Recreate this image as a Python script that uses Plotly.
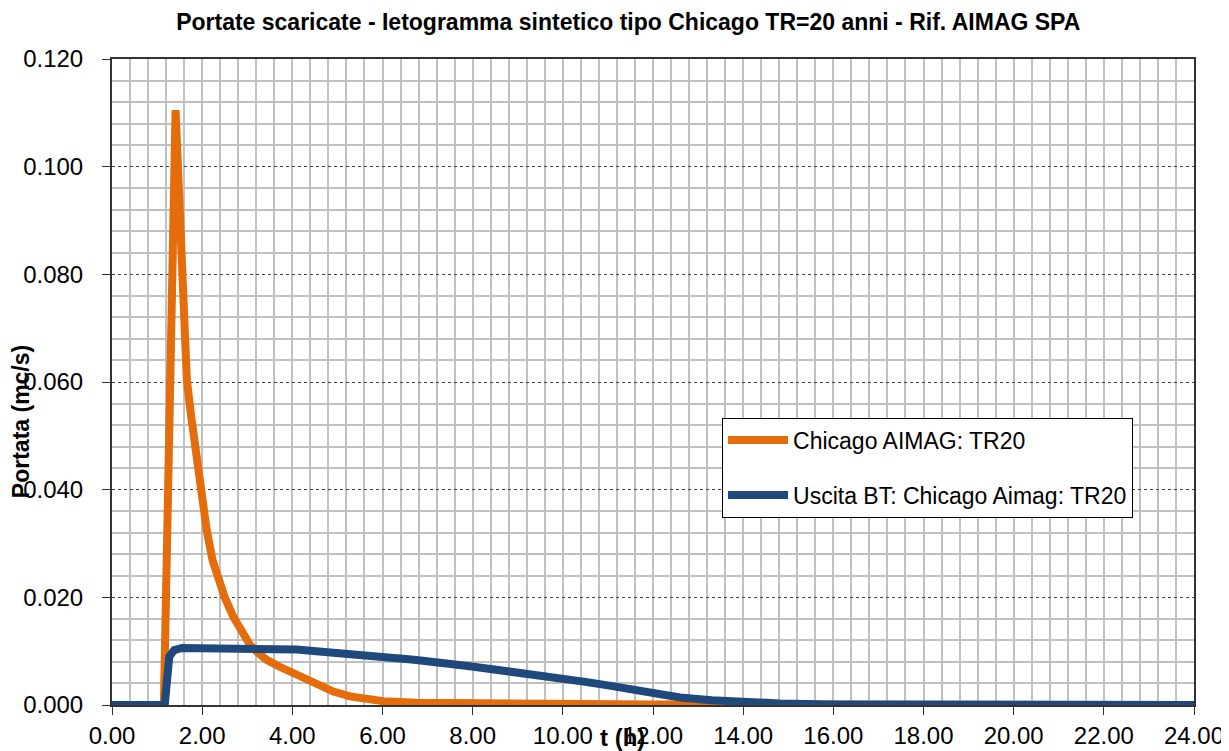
import plotly.graph_objects as go

# Chicago AIMAG: TR20 (portata in ingresso)
t_chicago = [0.0, 1.15, 1.41, 1.66, 1.75, 1.84, 1.95, 2.10, 2.23, 2.36, 2.50, 2.69, 2.88,
             3.06, 3.25, 3.43, 3.72, 4.02, 4.39, 4.65, 4.91, 5.28, 5.60, 6.02, 6.76, 8.60,
             12.0, 24.0]
q_chicago = [0.0, 0.0, 0.1105, 0.0604, 0.0540, 0.0480, 0.0400, 0.0325, 0.0269, 0.0232,
             0.0200, 0.0164, 0.0135, 0.0112, 0.0096, 0.0084, 0.0071, 0.0059, 0.0046,
             0.0035, 0.0025, 0.0016, 0.0011, 0.0007, 0.0004, 0.0002, 0.0001, 0.0]

# Uscita BT: Chicago Aimag: TR20
t_uscita = [0.0, 1.17, 1.27, 1.38, 1.55, 2.00, 3.06, 4.10, 4.91, 6.00, 6.70, 7.94, 8.90,
            10.0, 10.5, 11.1, 11.7, 12.1, 12.6, 13.3, 13.9, 14.8, 16.0, 24.0]
q_uscita = [0.0, 0.0, 0.0090, 0.0102, 0.0106, 0.0106, 0.0106, 0.0103, 0.0097, 0.0090,
            0.0084, 0.0072, 0.0062, 0.0049, 0.0043, 0.0035, 0.0027, 0.0019, 0.0014,
            0.0009, 0.0006, 0.0003, 0.0001, 0.0]

ORANGE = "#e46c0a"
BLUE = "#1f497d"
GRID = "#c0c0c0"
FONT = "Arial, Liberation Sans, sans-serif"

fig = go.Figure()
fig.add_trace(go.Scatter(x=t_chicago, y=q_chicago, mode="lines", name="Chicago AIMAG: TR20",
                         legendgroup="a", line=dict(color=ORANGE, width=8)))
fig.add_trace(go.Scatter(x=t_uscita, y=q_uscita, mode="lines", name="Uscita BT: Chicago Aimag: TR20",
                         legendgroup="b", line=dict(color=BLUE, width=8)))

# the page body adds an 8px margin, so the figure is a bit smaller than the window
fig.update_layout(
    width=1221, height=743,
    paper_bgcolor="white", plot_bgcolor="white",
    font=dict(family=FONT, color="black"),
    margin=dict(l=104, r=35, t=51, b=46, autoexpand=False),
    title=dict(text="<b>Portate scaricate - Ietogramma sintetico tipo Chicago TR=20 anni - Rif. AIMAG SPA</b>",
               x=0.508, y=0.981, xanchor="center", yanchor="middle", automargin=False,
               font=dict(family=FONT, size=23, color="black")),
    legend=dict(x=0.5638, y=0.445, xanchor="left", yanchor="top",
                bgcolor="white", bordercolor="black", borderwidth=1,
                font=dict(family=FONT, size=23), itemwidth=60,
                tracegroupgap=22, traceorder="grouped"),
    showlegend=True,
)

fig.update_xaxes(range=[0, 24], dtick=2, tickformat=".2f", automargin=False,
                 showline=True, linecolor="#333333", linewidth=2, mirror=True,
                 ticks="outside", ticklen=8, tickcolor="#333333",
                 tickfont=dict(family=FONT, size=24),
                 showgrid=True, gridcolor=GRID, gridwidth=2, griddash="solid", zeroline=False,
                 minor=dict(dtick=0.4, showgrid=True, gridcolor=GRID, gridwidth=2,
                            griddash="solid"))
fig.update_yaxes(range=[0, 0.12], dtick=0.02, tickformat=".3f", automargin=False,
                 showline=True, linecolor="#333333", linewidth=2, mirror=True,
                 ticks="outside", ticklen=8, tickcolor="#333333",
                 ticklabelstandoff=14,
                 tickfont=dict(family=FONT, size=24),
                 showgrid=True, gridcolor="#444444", gridwidth=1, griddash="dot",
                 zeroline=False,
                 minor=dict(dtick=0.004, showgrid=True, gridcolor=GRID, gridwidth=2,
                            griddash="solid"))

fig.add_annotation(text="<b>Portata (mc/s)</b>", xref="paper", yref="paper",
                   x=-0.084, y=0.438, xanchor="center", yanchor="middle", textangle=-90,
                   showarrow=False, font=dict(family=FONT, size=23, color="black"))
fig.add_annotation(text="<b>t (h)</b>", xref="paper", yref="paper",
                   x=0.472, y=-0.051, xanchor="center", yanchor="middle",
                   showarrow=False, font=dict(family=FONT, size=24, color="black"))

fig.write_html("out.html")
